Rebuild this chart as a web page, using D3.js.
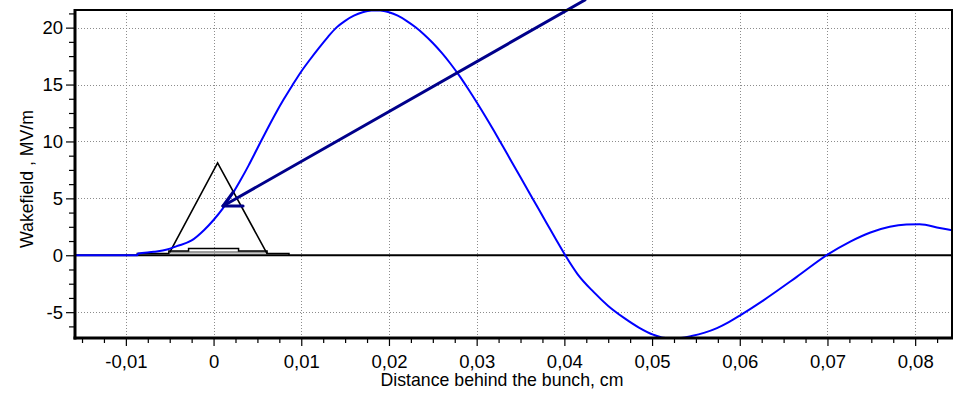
<!DOCTYPE html>
<html>
<head>
<meta charset="utf-8">
<script src="https://cdn.jsdelivr.net/npm/d3@7"></script>
<style>
  html, body { margin: 0; padding: 0; background: #fff; }
  svg { display: block; font-family: "Liberation Sans", Arial, sans-serif; }
</style>
</head>
<body>
<svg id="chart" width="959" height="394"></svg>
<script>
// ---- data ----
const wakeX = [-0.0158, -0.0087, -0.0086, -0.0068, -0.0053, -0.0042, -0.0025, -0.0011, 0, 0.001, 0.002, 0.003, 0.004, 0.005, 0.006, 0.007, 0.008, 0.009, 0.010, 0.011, 0.012, 0.013, 0.014, 0.015, 0.016, 0.017, 0.018, 0.019, 0.020, 0.021, 0.022, 0.023, 0.024, 0.025, 0.026, 0.027, 0.028, 0.029, 0.030, 0.031, 0.032, 0.033, 0.034, 0.035, 0.036, 0.037, 0.038, 0.039, 0.0401, 0.0415, 0.0433, 0.045, 0.0468, 0.0485, 0.0502, 0.0513, 0.0523, 0.0533, 0.0545, 0.0560, 0.0574, 0.0587, 0.0600, 0.0627, 0.0665, 0.0700, 0.0726, 0.0749, 0.0771, 0.0790, 0.0805, 0.0828, 0.0842];
const wakeY = [0, 0, 0.15, 0.3, 0.5, 0.8, 1.3, 2.2, 3.1, 4.05, 5.2, 6.5, 7.9, 9.4, 10.9, 12.35, 13.7, 14.95, 16.15, 17.2, 18.2, 19.15, 20.0, 20.6, 21.05, 21.35, 21.5, 21.5, 21.35, 21.05, 20.6, 20.05, 19.4, 18.65, 17.8, 16.85, 15.8, 14.65, 13.45, 12.2, 10.9, 9.55, 8.2, 6.85, 5.5, 4.15, 2.8, 1.45, 0, -1.65, -3.2, -4.45, -5.5, -6.35, -7.0, -7.25, -7.3, -7.27, -7.1, -6.8, -6.4, -5.9, -5.3, -3.96, -1.9, 0.05, 1.2, 2.0, 2.5, 2.7, 2.73, 2.4, 2.2];

const bunchX = [-0.0050, 0.00046, 0.0061];
const bunchY = [0.25, 8.12, 0.15];

const histEdges = [-0.0087, -0.0051, -0.00285, 0.00285, 0.0061, 0.0086];
const histHeights = [0.15, 0.37, 0.6, 0.37, 0.15];

const arrowShaft = [[0.00108, 4.33], [0.04235, 22.43]];
const arrowHeadA = [[0.00108, 4.33], [0.00336, 4.33]];
const arrowHeadB = [[0.00108, 4.33], [0.00225, 5.58]];

const xTicks = [-0.01, 0, 0.01, 0.02, 0.03, 0.04, 0.05, 0.06, 0.07, 0.08];
const xTickLabels = ["-0,01", "0", "0,01", "0,02", "0,03", "0,04", "0,05", "0,06", "0,07", "0,08"];
const yTicks = [-5, 0, 5, 10, 15, 20];
const yTickLabels = ["-5", "0", "5", "10", "15", "20"];
const xDomain = [-0.0158, 0.0842];
const yDomain = [-7.27, 21.55];
const xTitle = "Distance behind the bunch, cm";
const yTitle = "Wakefield , MV/m";

// ---- layout ----
const L = 75, R = 952, T = 10, B = 338;
const svg = d3.select("#chart");
const x = d3.scaleLinear().domain(xDomain).range([L, R]);
const y = d3.scaleLinear().domain(yDomain).range([B, T]);

const xMinor = d3.range(-0.015, 0.0842, 0.0025).filter(v => !xTicks.some(t => Math.abs(t - v) < 1e-9));
const yMinor = d3.range(-6.25, 21.55, 1.25).filter(v => !yTicks.some(t => Math.abs(t - v) < 1e-9));

svg.append("defs").append("clipPath").attr("id", "clip")
  .append("rect").attr("x", L).attr("y", T).attr("width", R - L).attr("height", B - T);

// grid
const grid = svg.append("g").attr("stroke", "#8c8c8c").attr("stroke-width", 1)
  .attr("stroke-dasharray", "1,2").attr("shape-rendering", "crispEdges");
grid.selectAll(".gx").data(xTicks).join("line")
  .attr("x1", d => Math.round(x(d)) + 0.5).attr("x2", d => Math.round(x(d)) + 0.5)
  .attr("y1", T).attr("y2", B);
grid.selectAll(".gy").data(yTicks.filter(d => d !== 0)).join("line")
  .attr("y1", d => Math.round(y(d)) + 0.5).attr("y2", d => Math.round(y(d)) + 0.5)
  .attr("x1", L).attr("x2", R);

// axes (ticks + labels)
const tickFont = 18.5;
const xAxis = d3.axisBottom(x).tickValues(xTicks).tickSize(7)
  .tickFormat((d, i) => xTickLabels[i]);
const gx = svg.append("g").attr("transform", `translate(0,${B + 1})`).call(xAxis);
gx.select(".domain").remove();
gx.selectAll("text").attr("font-size", tickFont).attr("font-family", "Liberation Sans, Arial, sans-serif")
  .attr("fill", "#000").attr("dy", null).attr("y", 29);
gx.selectAll("line").attr("stroke", "#000").attr("stroke-width", 1.2);
svg.append("g").attr("transform", `translate(0,${B + 1})`)
  .call(d3.axisBottom(x).tickValues(xMinor).tickSize(4).tickFormat(""))
  .call(g => g.select(".domain").remove())
  .selectAll("line").attr("stroke", "#000").attr("stroke-width", 1.2);

const yAxis = d3.axisLeft(y).tickValues(yTicks).tickSize(8)
  .tickFormat((d, i) => yTickLabels[i]);
const gy = svg.append("g").attr("transform", `translate(${L - 1},0)`).call(yAxis);
gy.select(".domain").remove();
gy.selectAll("text").attr("font-size", tickFont).attr("font-family", "Liberation Sans, Arial, sans-serif")
  .attr("fill", "#000").attr("x", -11);
gy.selectAll("line").attr("stroke", "#000").attr("stroke-width", 1.2);
svg.append("g").attr("transform", `translate(${L - 1},0)`)
  .call(d3.axisLeft(y).tickValues(yMinor).tickSize(5).tickFormat(""))
  .call(g => g.select(".domain").remove())
  .selectAll("line").attr("stroke", "#000").attr("stroke-width", 1.2);

// titles
svg.append("text").attr("x", 502).attr("y", 386)
  .attr("text-anchor", "middle").attr("font-size", 17.7).text(xTitle);
svg.append("text").attr("transform", "translate(33,179) rotate(-90)")
  .attr("text-anchor", "middle").attr("font-size", 17.7).text(yTitle);

const plot = svg.append("g").attr("clip-path", "url(#clip)");

// zero line
plot.append("line").attr("x1", L).attr("x2", R).attr("y1", y(0)).attr("y2", y(0))
  .attr("stroke", "#000").attr("stroke-width", 2);

// histogram of bunch (step outline)
const histPts = histHeights.map((h, i) => [histEdges[i], h]).concat([[histEdges[histEdges.length - 1], histHeights[histHeights.length - 1]]]);
plot.append("rect")
  .attr("x", x(histEdges[1])).attr("width", x(histEdges[4]) - x(histEdges[1]))
  .attr("y", y(histHeights[1])).attr("height", y(histHeights[0]) - y(histHeights[1]))
  .attr("fill", "#9a9a9a");
plot.append("path")
  .datum([[histEdges[0], 0]].concat(histPts).concat([[histEdges[histEdges.length - 1], 0]]))
  .attr("fill", "none").attr("stroke", "#000").attr("stroke-width", 1.5)
  .attr("d", d3.line().x(d => x(d[0])).y(d => y(d[1])).curve(d3.curveStepAfter));

// triangular bunch shape
plot.append("path").datum(bunchX.map((v, i) => [v, bunchY[i]]))
  .attr("fill", "none").attr("stroke", "#000").attr("stroke-width", 1.6)
  .attr("d", d3.line().x(d => x(d[0])).y(d => y(d[1])));

// wakefield curve
plot.append("path").datum(wakeX.map((v, i) => [v, wakeY[i]]))
  .attr("fill", "none").attr("stroke", "#0000ff").attr("stroke-width", 2)
  .attr("d", d3.line().x(d => x(d[0])).y(d => y(d[1])).curve(d3.curveMonotoneX));

// arrow annotation (not clipped)
const aLine = d3.line().x(d => x(d[0])).y(d => y(d[1]));
[arrowShaft, arrowHeadA, arrowHeadB].forEach(seg => {
  svg.append("path").datum(seg).attr("d", aLine)
    .attr("stroke", "#00008b").attr("stroke-width", 3).attr("fill", "none").attr("stroke-linecap", "round");
});

// frame
svg.append("line").attr("x1", L).attr("x2", R + 1).attr("y1", T).attr("y2", T).attr("stroke", "#000").attr("stroke-width", 2);
svg.append("line").attr("x1", R).attr("x2", R).attr("y1", T).attr("y2", B).attr("stroke", "#000").attr("stroke-width", 2);
svg.append("line").attr("x1", L).attr("x2", L).attr("y1", T - 1).attr("y2", B + 1.5).attr("stroke", "#000").attr("stroke-width", 3);
svg.append("line").attr("x1", L - 1.5).attr("x2", R + 1).attr("y1", B).attr("y2", B).attr("stroke", "#000").attr("stroke-width", 3);
</script>
</body>
</html>
